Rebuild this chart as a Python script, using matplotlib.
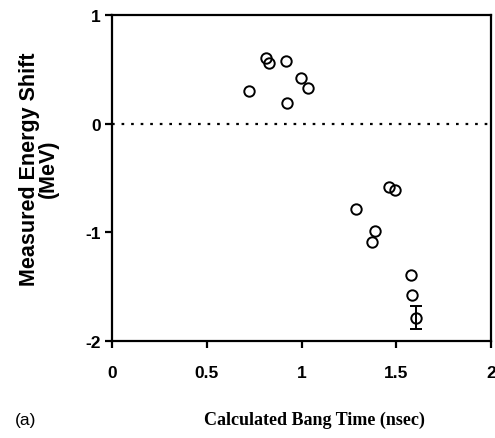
import matplotlib.pyplot as plt

plt.rcParams['axes.unicode_minus'] = False

# measured points
bang_time = [0.725, 0.811, 0.829, 0.918, 0.925, 0.999, 1.033,
             1.286, 1.464, 1.495, 1.386, 1.374, 1.580, 1.585]
energy_shift = [0.30, 0.60, 0.56, 0.58, 0.19, 0.42, 0.33,
                -0.79, -0.58, -0.61, -0.99, -1.09, -1.39, -1.58]
# last point carries an error bar
err_x = [1.603]
err_y = [-1.786]
err_size = [0.105]

xticks = [0, 0.5, 1, 1.5, 2]
xtick_labels = ['0', '0.5', '1', '1.5', '2']
yticks = [-2, -1, 0, 1]

fig = plt.figure(figsize=(4.95, 4.39), dpi=100)
ax = fig.add_axes([0.2263, 0.221, 0.7657, 0.7426])

ax.axhline(0, color='black', lw=1.6, dashes=(1.2, 3.1), zorder=1)
ax.plot(bang_time, energy_shift, 'o', mfc='none', mec='black', ms=7.5, mew=1.4)
ax.errorbar(err_x, err_y, yerr=err_size, fmt='o', mfc='none', mec='black',
            ms=7.5, mew=1.4, ecolor='black', elinewidth=1.4, capsize=4, capthick=1.4)

ax.set_xlim(0, 2)
ax.set_ylim(-2, 1)
ax.set_xticks(xticks)
ax.set_xticklabels(xtick_labels)
ax.set_yticks(yticks)
for s in ax.spines.values():
    s.set_linewidth(1.6)
ax.tick_params(direction='out', length=5, width=1.6, pad=12)
for lbl in ax.get_xticklabels() + ax.get_yticklabels():
    lbl.set_fontfamily('Liberation Sans')
    lbl.set_fontweight('bold')
    lbl.set_fontsize(12.5)
ax.tick_params(axis='y', pad=3)

ax.set_ylabel('Measured Energy Shift\n(MeV)', fontfamily='Liberation Sans',
              fontweight='bold', fontsize=15.5, linespacing=0.85)
ax.yaxis.set_label_coords(-0.141, 0.53)

fig.text(0.636, 0.043, 'Calculated Bang Time (nsec)', ha='center', va='center',
         fontfamily='Liberation Serif', fontweight='bold', fontsize=13)
fig.text(0.03, 0.043, '(a)', ha='left', va='center',
         fontfamily='Liberation Sans', fontsize=12.5)

fig.savefig('out.png', dpi=100)
